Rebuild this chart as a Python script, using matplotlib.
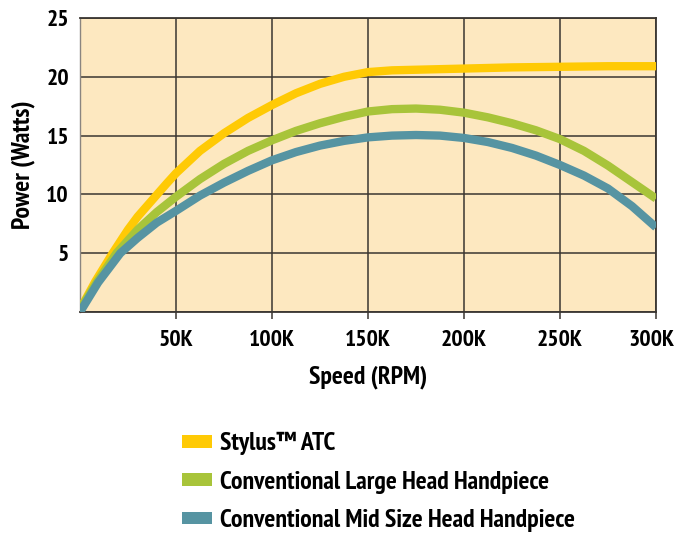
import numpy as np
import matplotlib
matplotlib.use('Agg')
import matplotlib.pyplot as plt
import matplotlib.transforms as mtransforms
from matplotlib.patches import Patch

plt.rcParams['font.family'] = ['PT Sans Narrow', 'DejaVu Sans']
plt.rcParams['font.weight'] = 'bold'
plt.rcParams['axes.labelweight'] = 'bold'

# speed in thousands of RPM, power in watts
stylus_x = [0, 8, 17, 25, 30, 37.5, 45, 50, 62.5, 75, 87.5, 100, 112.5, 125, 137.5, 150,
            162.5, 175, 200, 225, 250, 275, 300]
stylus_y = [0.2, 2.6, 5.0, 7.0, 8.1, 9.5, 10.9, 11.8, 13.7, 15.2, 16.5, 17.6, 18.6, 19.4, 20.0, 20.4,
            20.55, 20.6, 20.7, 20.8, 20.85, 20.9, 20.9]

large_x = [0, 9, 19, 30, 40, 50, 62.5, 75, 87.5, 100, 112.5, 125, 137.5, 150, 162.5, 175,
           187.5, 200, 212.5, 225, 237.5, 250, 262.5, 275, 287.5, 300]
large_y = [0.2, 2.6, 5.0, 7.0, 8.5, 9.8, 11.3, 12.6, 13.7, 14.6, 15.4, 16.05, 16.6, 17.05, 17.25, 17.3,
           17.2, 16.95, 16.55, 16.05, 15.45, 14.7, 13.7, 12.45, 11.05, 9.65]

mid_x = [0, 9.4, 21, 30, 40, 50, 62.5, 75, 87.5, 100, 112.5, 125, 137.5, 150, 162.5, 175,
         187.5, 200, 212.5, 225, 237.5, 250, 262.5, 275, 287.5, 300]
mid_y = [0, 2.5, 5.0, 6.3, 7.6, 8.6, 9.9, 11.0, 12.0, 12.9, 13.6, 14.15, 14.55, 14.85, 15.0, 15.05,
         15.0, 14.8, 14.45, 13.95, 13.3, 12.5, 11.6, 10.5, 9.0, 7.2]

labels = ['Stylus™ ATC', 'Conventional Large Head Handpiece',
          'Conventional Mid Size Head Handpiece']
colors = ['#FFCA05', '#A8C43A', '#5694A2']

x_ticks = [50, 100, 150, 200, 250, 300]
x_labels = ['50K', '100K', '150K', '200K', '250K', '300K']
y_ticks = [0, 5, 10, 15, 20, 25]
y_labels = ['', '5', '10', '15', '20', '25']

fontsize = 17
bigsize = 18.5
gridcol = '#3a3631'

fig = plt.figure(figsize=(6.76, 5.36), dpi=100)
ax = fig.add_axes([80/676, 1-312/536, 576/676, 294/536])
ax.set_facecolor('#FDE8C0')

for xs, ys, c in zip([stylus_x, large_x, mid_x], [stylus_y, large_y, mid_y], colors):
    ax.plot(xs, ys, color=c, lw=6, solid_capstyle='butt', solid_joinstyle='round', zorder=3)

ax.set_xlim(0, 300)
ax.set_ylim(0, 25)
ax.set_xticks(x_ticks)
ax.set_xticklabels(x_labels, fontsize=fontsize, fontweight='bold')
ax.set_yticks(y_ticks)
ax.set_yticklabels(y_labels, fontsize=fontsize, fontweight='bold')
ax.tick_params(axis='x', length=5, width=1.1, color=gridcol, pad=8)
ax.tick_params(axis='y', length=0, pad=8)
ax.grid(True, color=gridcol, lw=1.1, zorder=1)
ax.set_axisbelow(True)
for s in ['top', 'right', 'bottom']:
    ax.spines[s].set_color(gridcol)
    ax.spines[s].set_linewidth(1.3)
ax.spines['left'].set_color('#8a8580')
ax.spines['left'].set_linewidth(1.0)

# last x label sits a little left of its tick, as in the original
last = ax.get_xticklabels()[-1]
last.set_transform(last.get_transform() + mtransforms.ScaledTranslation(-5/100, 0, fig.dpi_scale_trans))

ax.set_xlabel('Speed (RPM)', fontsize=bigsize, fontweight='bold', labelpad=10)
ax.set_ylabel('Power (Watts)', fontsize=bigsize, fontweight='bold', labelpad=8)

handles = [Patch(facecolor=c, edgecolor='none') for c in colors]
fig.legend(handles, labels, loc='upper left', bbox_to_anchor=(159/676, 1-409/536),
           frameon=False, prop={'size': bigsize, 'weight': 'bold'},
           handlelength=1.17, handleheight=0.39, handletextpad=0.3, labelspacing=0.6)

plt.savefig('out.png', dpi=100)
